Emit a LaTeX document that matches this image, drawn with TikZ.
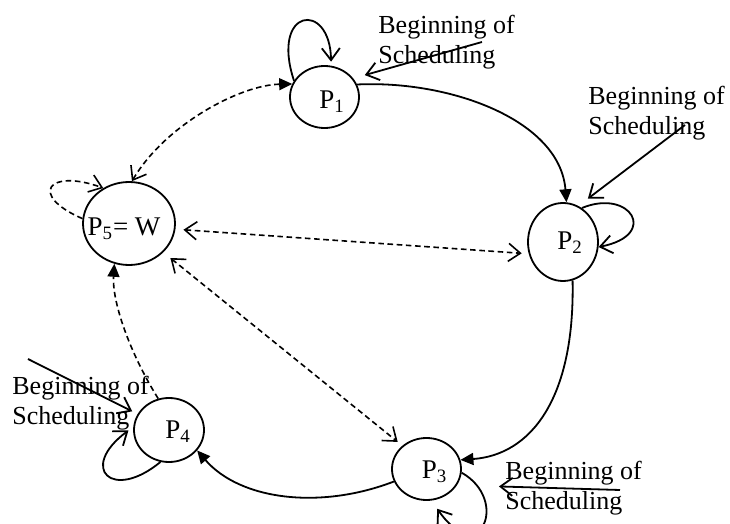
\documentclass[tikz,border=0pt]{standalone}
\usepackage{fontspec}
\setmainfont{Liberation Serif}
\usetikzlibrary{arrows.meta,shapes.geometric}
\begin{document}
\begin{tikzpicture}[x=0.5pt,y=-0.5pt,
  state/.style={draw,ellipse,line width=0.9pt,inner sep=0pt},
  ptext/.style={font=\fontsize{13.5}{15}\selectfont,inner sep=0pt},
  lbl/.style={font=\fontsize{13}{15}\selectfont,inner sep=0pt,align=left,anchor=north west},
  solidarr/.style={line width=0.9pt},
  dasharr/.style={line width=0.8pt,dash pattern=on 2.8pt off 1.8pt},
  openhead/.style={-{Straight Barb[length=6pt,width=9pt]}},
  filledhead/.style={-{Triangle[length=6.5pt,width=6pt]}},
]
\useasboundingbox (0,0) rectangle (730,524);

% states
\node[state,minimum width=34.5pt,minimum height=31pt] (p1) at (324.5,97) {};
\node[state,minimum width=35pt,minimum height=39pt] (p2) at (563,242) {};
\node[state,minimum width=46pt,minimum height=41.5pt] (p5) at (129,223.5) {};
\node[state,minimum width=35pt,minimum height=32pt] (p4) at (169,430) {};
\node[state,minimum width=34.5pt,minimum height=31pt] (p3) at (426.5,469) {};

\node[ptext] (t1) at (332,102) {P\textsubscript{1}};
\node[ptext] (t2) at (570,243) {P\textsubscript{2}};
\node[ptext] (t5) at (124,229) {P\textsubscript{5}= W};
\node[ptext] (t4) at (178,432) {P\textsubscript{4}};
\node[ptext] (t3) at (434.5,472) {P\textsubscript{3}};

% labels
\node[lbl] (l1) at (378,15) {Beginning of\\Scheduling};
\node[lbl] (l2) at (588,86) {Beginning of\\Scheduling};
\node[lbl] (l4) at (12,376) {Beginning of\\Scheduling};
\node[lbl] (l3) at (505,461) {Beginning of\\Scheduling};

% free ends of the "Beginning" arrows
\coordinate (s1) at (482,42);
\coordinate (s2) at (685,125);
\coordinate (s4) at (28,359);
\coordinate (s3) at (620,490);

\draw[solidarr,openhead,shorten >=6pt] (s1) -- (p1.33);
\draw[solidarr,openhead,shorten >=6pt] (s2) -- (p2.67);
\draw[solidarr,openhead,shorten >=3pt] (s4) -- (p4.153);
\draw[solidarr,openhead,shorten >=21pt] (s3) -- (p3.-28);

% self loops
\draw[solidarr,openhead,shorten >=2pt] (p1.152) .. controls (270,8) and (330,0) .. (p1.78);
\draw[solidarr,openhead] (p2.61) .. controls (630,188) and (660,235) .. (p2.-8);
\draw[solidarr,openhead,shorten >=5pt] (p3.-6) .. controls (510,500) and (480,570) .. (p3.-81);
\draw[solidarr,openhead,shorten >=3pt] (p4.255) .. controls (112,502) and (78,468) .. (p4.175);
\draw[dasharr,openhead] (p5.174) .. controls (28,195) and (48,168) .. (p5.126);

% solid cycle
\draw[solidarr,filledhead] (p1.21) .. controls (450,80) and (560,120) .. (p2.85);
\draw[solidarr,filledhead] (p2.-76) .. controls (575,400) and (530,455) .. (p3.15);
\draw[solidarr,filledhead] (p3.201) .. controls (320,510) and (240,500) .. (p4.-36);

% dashed links
\draw[dasharr,{Straight Barb[length=6pt,width=9pt]}-{Triangle[length=6.5pt,width=6pt]}] (p5.86) .. controls (165,125) and (240,85) .. (p1.158);
\draw[dasharr,filledhead] (p4.109) .. controls (128,350) and (112,300) .. (p5.250);
\draw[dasharr,{Straight Barb[length=6pt,width=9pt]}-{Straight Barb[length=6pt,width=9pt]},shorten <=4pt,shorten >=3.5pt] (p5.-7) -- (p2.199);
\draw[dasharr,{Straight Barb[length=6pt,width=9pt]}-{Straight Barb[length=6pt,width=9pt]},shorten <=4.5pt,shorten >=3pt] (p5.-40) -- (p3.136);
\end{tikzpicture}
\end{document}
